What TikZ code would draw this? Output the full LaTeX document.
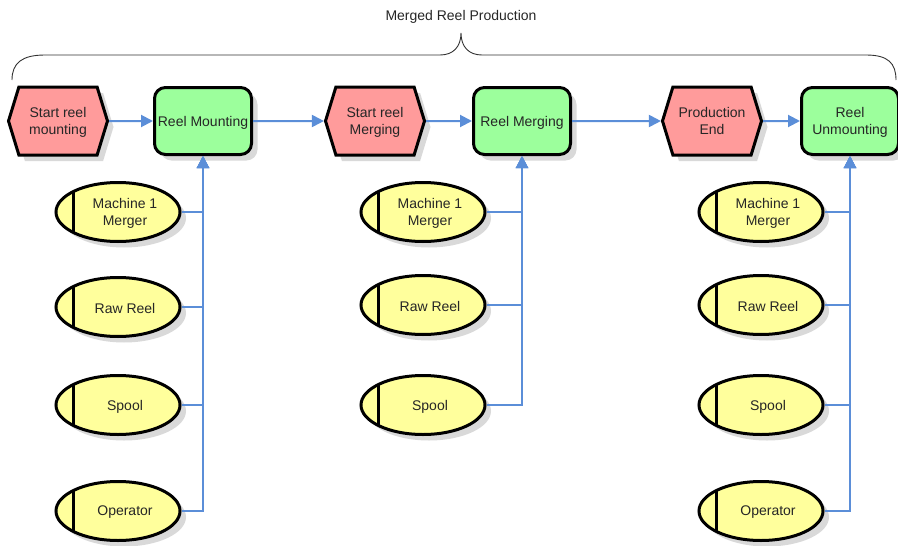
\documentclass[tikz,border=0pt]{standalone}
\usepackage{fontspec}
\setmainfont{Liberation Sans}
\usepackage{tikz}
\usetikzlibrary{shapes,arrows.meta,shadows}
\usepackage{xcolor}
\definecolor{evred}{HTML}{FF9B9B}
\definecolor{fngreen}{HTML}{9CFF9C}
\definecolor{resyellow}{HTML}{FFFF9C}
\definecolor{linkblue}{HTML}{5B8ED8}

\begin{document}
\begin{tikzpicture}[x=1pt, y=-1pt,
    every node/.style={font=\fontsize{14}{17}\selectfont, align=center, text=black!85},
    shade/.style={drop shadow={shadow xshift=6pt, shadow yshift=-6pt, fill=black!25, opacity=0.6}},
    event/.style={signal, signal to=east and west, signal pointer angle=146,
        draw=black, line width=3pt, fill=evred, minimum width=99pt, minimum height=68pt,
        inner sep=0pt, text depth=0pt, shade},
    func/.style={rectangle, rounded corners=11pt, draw=black, line width=3pt, fill=fngreen,
        minimum width=97pt, minimum height=67pt, inner sep=0pt, text depth=0pt, shade},
    res/.style={ellipse, draw=black, line width=3pt, fill=resyellow,
        minimum width=124pt, minimum height=59pt, inner sep=0pt, shade,
        path picture={\draw[line width=3pt]
            ([xshift=17pt]path picture bounding box.south west) --
            ([xshift=17pt]path picture bounding box.north west);},
        label={[xshift=7pt, yshift=-1.5pt, align=center]center:#1}},
    link/.style={draw=linkblue, line width=2pt, -{Triangle[length=12pt,width=12pt]}}]
    \useasboundingbox (0,0) rectangle (898,546);
    % brace and title
    \draw[black!80, line width=0.9pt] (12,80) .. controls (12,63) and (22,55) .. (45,55)
        -- (440,55) .. controls (453,55) and (461,47) .. (461,33)
        .. controls (461,47) and (469,55) .. (482,55)
        -- (866,55) .. controls (888,55) and (896,63) .. (896,80);
    \node (title) at (461,17) {Merged Reel Production};
    % top row
    \node[event] (startmount) at (58,121) {Start reel\\mounting};
    \node[func] (mount) at (203,121) {Reel Mounting};
    \node[event] (startmerge) at (375,121) {Start reel\\Merging};
    \node[func] (merge) at (522,121) {Reel Merging};
    \node[event] (prodend) at (712,121) {Production\\End};
    \node[func] (unmount) at (850,121) {Reel\\Unmounting};
    % resources, left
    \node[res={Machine 1\\Merger}] (mergerA) at (118,212) {};
    \node[res={Raw Reel}] (rawA) at (118,307) {};
    \node[res={Spool}] (spoolA) at (118,405) {};
    \node[res={Operator}] (opA) at (118,511) {};
    % resources, middle
    \node[res={Machine 1\\Merger}] (mergerB) at (423,212) {};
    \node[res={Raw Reel}] (rawB) at (423,305) {};
    \node[res={Spool}] (spoolB) at (423,405) {};
    % resources, right
    \node[res={Machine 1\\Merger}] (mergerC) at (761,212) {};
    \node[res={Raw Reel}] (rawC) at (761,305) {};
    \node[res={Spool}] (spoolC) at (761,405) {};
    \node[res={Operator}] (opC) at (761,511) {};
    % flow
    \draw[link] (startmount) -- (mount);
    \draw[link] (mount) -- (startmerge);
    \draw[link] (startmerge) -- (merge);
    \draw[link] (merge) -- (prodend);
    \draw[link] (prodend) -- (unmount);
    \draw[link] (mergerA.east) -| (mount.south);
    \draw[link] (rawA.east) -| (mount.south);
    \draw[link] (spoolA.east) -| (mount.south);
    \draw[link] (opA.east) -| (mount.south);
    \draw[link] (mergerB.east) -| (merge.south);
    \draw[link] (rawB.east) -| (merge.south);
    \draw[link] (spoolB.east) -| (merge.south);
    \draw[link] (mergerC.east) -| (unmount.south);
    \draw[link] (rawC.east) -| (unmount.south);
    \draw[link] (spoolC.east) -| (unmount.south);
    \draw[link] (opC.east) -| (unmount.south);
\end{tikzpicture}
\end{document}
